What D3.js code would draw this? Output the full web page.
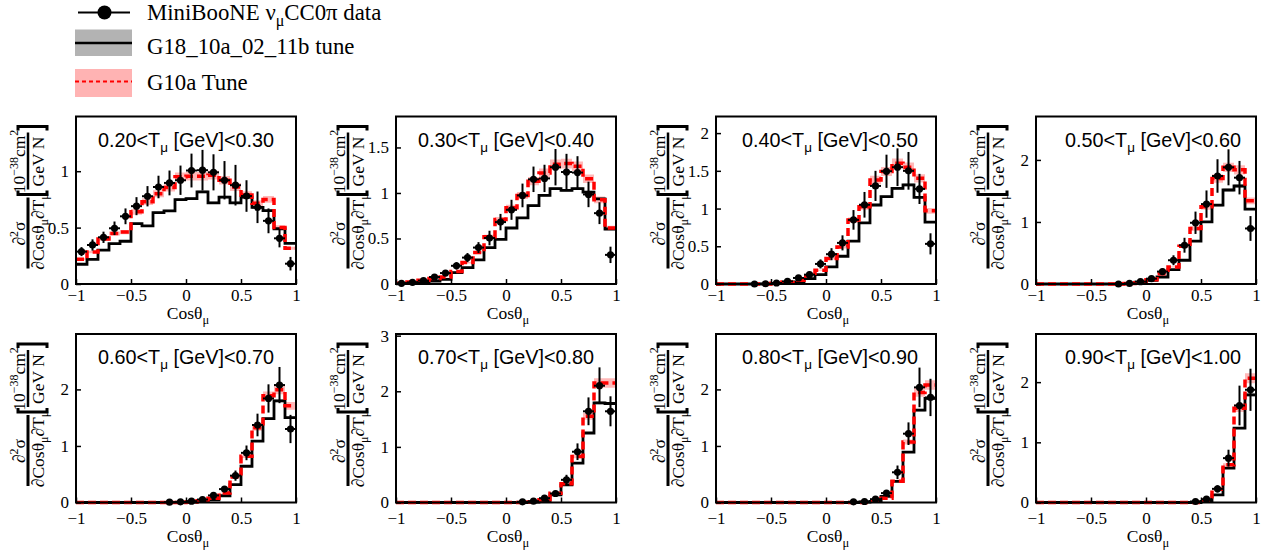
<!DOCTYPE html>
<html>
<head>
<meta charset="utf-8">
<script src="https://cdn.jsdelivr.net/npm/d3@7"></script>
<style>
  body { margin: 0; background: #fff; }
</style>
</head>
<body>
<svg id="chart" width="1273" height="554"></svg>
<script>
// bin edges in cos(theta_mu)
const binEdges = [-1, -0.9, -0.8, -0.7, -0.6, -0.5, -0.4, -0.3, -0.2, -0.1, 0, 0.1, 0.2, 0.3, 0.4, 0.5, 0.6, 0.7, 0.8, 0.9, 1];

// T_mu slices (panel titles)
const tLow  = ["0.20", "0.30", "0.40", "0.50", "0.60", "0.70", "0.80", "0.90"];
const tHigh = ["0.30", "0.40", "0.50", "0.60", "0.70", "0.80", "0.90", "1.00"];

// y axis range and ticks per panel
const yMax = [1.485, 1.84, 2.22, 2.70, 2.98, 3.03, 2.98, 2.80];
const yTicks = [
  [0, 0.5, 1], [0, 0.5, 1, 1.5], [0, 0.5, 1, 1.5, 2], [0, 1, 2],
  [0, 1, 2], [0, 1, 2, 3], [0, 1, 2], [0, 1, 2]
];
const xTicks = [-1, -0.5, 0, 0.5, 1];

// MiniBooNE data (null = no measurement) and errors
const dataVals = [
  [0.287, 0.346, 0.414, 0.494, 0.60, 0.69, 0.778, 0.86, 0.896, 0.92, 1.006, 1.009, 0.99, 0.92, 0.876, 0.78, 0.68, 0.56, 0.405, 0.18],
  [0.007, 0.018, 0.037, 0.077, 0.12, 0.2, 0.29, 0.40, 0.505, 0.68, 0.815, 0.973, 1.15, 1.16, 1.283, 1.23, 1.224, 0.984, 0.778, 0.32],
  [null, null, null, 0.0, 0.003, 0.013, 0.035, 0.08, 0.124, 0.266, 0.395, 0.545, 0.85, 1.05, 1.30, 1.494, 1.548, 1.5, 1.26, 0.532],
  [null, null, null, null, null, null, null, 0.0, 0.01, 0.038, 0.086, 0.2, 0.383, 0.625, 0.987, 1.288, 1.741, 1.881, 1.714, 0.895],
  [null, null, null, null, null, null, null, null, 0.006, 0.012, 0.024, 0.053, 0.125, 0.237, 0.475, 0.878, 1.371, 1.84, 2.077, 1.30],
  [null, null, null, null, null, null, null, null, null, null, null, 0.012, 0.024, 0.078, 0.162, 0.408, 0.913, 1.64, 2.10, 1.64],
  [null, null, null, null, null, null, null, null, null, null, null, null, 0.012, 0.018, 0.059, 0.166, 0.534, 1.217, 2.036, 1.858],
  [null, null, null, null, null, null, null, null, null, null, null, null, null, null, 0.017, 0.055, 0.227, 0.737, 1.612, 1.873]
];
const dataErr = [
  [0.04, 0.05, 0.05, 0.06, 0.07, 0.08, 0.09, 0.1, 0.11, 0.13, 0.15, 0.18, 0.16, 0.17, 0.18, 0.14, 0.14, 0.11, 0.08, 0.06],
  [0.01, 0.01, 0.015, 0.02, 0.03, 0.04, 0.05, 0.06, 0.08, 0.09, 0.11, 0.13, 0.14, 0.15, 0.2, 0.2, 0.18, 0.14, 0.12, 0.09],
  [0, 0, 0, 0.01, 0.01, 0.02, 0.02, 0.03, 0.04, 0.06, 0.08, 0.1, 0.13, 0.17, 0.2, 0.22, 0.25, 0.25, 0.2, 0.14],
  [0, 0, 0, 0, 0, 0, 0, 0.01, 0.01, 0.02, 0.03, 0.05, 0.08, 0.12, 0.18, 0.22, 0.27, 0.29, 0.27, 0.2],
  [0, 0, 0, 0, 0, 0, 0, 0, 0.01, 0.01, 0.01, 0.02, 0.03, 0.05, 0.09, 0.13, 0.2, 0.25, 0.32, 0.25],
  [0, 0, 0, 0, 0, 0, 0, 0, 0, 0, 0, 0.01, 0.02, 0.03, 0.05, 0.09, 0.15, 0.25, 0.33, 0.27],
  [0, 0, 0, 0, 0, 0, 0, 0, 0, 0, 0, 0, 0.01, 0.02, 0.03, 0.05, 0.12, 0.2, 0.35, 0.33],
  [0, 0, 0, 0, 0, 0, 0, 0, 0, 0, 0, 0, 0, 0, 0.02, 0.03, 0.06, 0.14, 0.33, 0.35]
];

// G18_10a_02_11b tune (black)
const g18Vals = [
  [0.175, 0.219, 0.30, 0.358, 0.379, 0.535, 0.515, 0.633, 0.648, 0.748, 0.757, 0.817, 0.72, 0.77, 0.72, 0.77, 0.68, 0.65, 0.49, 0.36],
  [0.007, 0.015, 0.022, 0.033, 0.05, 0.125, 0.18, 0.265, 0.40, 0.49, 0.615, 0.726, 0.862, 0.973, 1.047, 1.028, 1.047, 1.01, 0.936, 0.604],
  [0, 0, 0, 0, 0, 0.004, 0.01, 0.027, 0.07, 0.124, 0.226, 0.368, 0.568, 0.81, 1.047, 1.157, 1.268, 1.313, 1.149, 0.82],
  [0, 0, 0, 0, 0, 0, 0, 0, 0.01, 0.03, 0.06, 0.113, 0.232, 0.383, 0.69, 1.0, 1.27, 1.515, 1.58, 1.207],
  [0, 0, 0, 0, 0, 0, 0, 0, 0, 0, 0.005, 0.018, 0.047, 0.119, 0.315, 0.641, 1.086, 1.484, 1.798, 1.50],
  [0, 0, 0, 0, 0, 0, 0, 0, 0, 0, 0, 0, 0.006, 0.036, 0.138, 0.318, 0.709, 1.25, 1.79, 1.78],
  [0, 0, 0, 0, 0, 0, 0, 0, 0, 0, 0, 0, 0, 0.005, 0.018, 0.107, 0.374, 0.89, 1.632, 1.84],
  [0, 0, 0, 0, 0, 0, 0, 0, 0, 0, 0, 0, 0, 0, 0, 0.017, 0.127, 0.57, 1.235, 1.79]
];

// G10a Tune (red dashed)
const g10aVals = [
  [0.219, 0.284, 0.40, 0.447, 0.46, 0.64, 0.73, 0.80, 0.855, 0.95, 0.955, 0.955, 0.965, 0.92, 0.86, 0.79, 0.715, 0.75, 0.50, 0.317],
  [0.007, 0.022, 0.04, 0.06, 0.077, 0.136, 0.236, 0.346, 0.52, 0.708, 0.837, 0.973, 1.13, 1.22, 1.316, 1.323, 1.294, 1.157, 0.925, 0.616],
  [0, 0, 0, 0, 0, 0.01, 0.025, 0.05, 0.106, 0.182, 0.337, 0.49, 0.847, 1.024, 1.38, 1.49, 1.6, 1.548, 1.40, 0.97],
  [0, 0, 0, 0, 0, 0, 0, 0, 0.01, 0.022, 0.07, 0.167, 0.275, 0.61, 0.895, 1.245, 1.70, 1.88, 1.84, 1.34],
  [0, 0, 0, 0, 0, 0, 0, 0, 0, 0, 0.01, 0.03, 0.077, 0.166, 0.45, 0.819, 1.323, 1.887, 1.994, 1.709],
  [0, 0, 0, 0, 0, 0, 0, 0, 0, 0, 0, 0, 0.01, 0.048, 0.168, 0.336, 0.829, 1.55, 2.15, 2.15],
  [0, 0, 0, 0, 0, 0, 0, 0, 0, 0, 0, 0, 0, 0, 0.02, 0.077, 0.374, 1.07, 1.947, 2.077],
  [0, 0, 0, 0, 0, 0, 0, 0, 0, 0, 0, 0, 0, 0, 0, 0.033, 0.22, 0.626, 1.568, 2.066]
];

// relative half-width of the model uncertainty bands
const g18Band = 0.015;
const g10aBand = 0.04;

const serif = "'Liberation Serif', 'DejaVu Serif', serif";
const sans = "'Liberation Sans', Arial, sans-serif";

const svg = d3.select("#chart");

// layout
const W = 220;
const colX = [76, 396, 716, 1036];
const rowY = [116.5, 334];
const rowH = [167.5, 168.5];
const titleDx = [22, 22, 26, 29];
const tickLabDy = [16.5, 21];
const xTitleDy = [34.5, 39];

const x = d3.scaleLinear().domain([-1, 1]).range([0, W]);
const fmt = d3.format("");

function yLabel(g) {
  const L = g.append("g")
    .attr("transform", "translate(-48,152) rotate(-90)")
    .attr("font-family", serif)
    .attr("font-size", 17.5);

  L.append("line").attr("x1", 0).attr("x2", 71).attr("y1", 0).attr("y2", 0)
    .attr("stroke", "#000").attr("stroke-width", 3);
  const num = L.append("text").attr("x", 35).attr("y", -3).attr("text-anchor", "middle");
  num.append("tspan").text("∂");
  num.append("tspan").attr("dy", -7).attr("font-size", 12).text("2");
  num.append("tspan").attr("dy", 7).text("σ");

  const den = L.append("text").attr("x", 37).attr("y", 16).attr("text-anchor", "middle");
  den.append("tspan").text("∂Cosθ");
  den.append("tspan").attr("dy", 4).attr("font-size", 12).text("μ");
  den.append("tspan").attr("dy", -4).text("∂T");
  den.append("tspan").attr("dy", 4).attr("font-size", 12).text("μ");

  // brackets
  L.append("path").attr("d", "M78,-10 L74,-10 L74,19 L78,19")
    .attr("fill", "none").attr("stroke", "#000").attr("stroke-width", 3);
  L.append("path").attr("d", "M138,-10 L142,-10 L142,19 L138,19")
    .attr("fill", "none").attr("stroke", "#000").attr("stroke-width", 3);

  L.append("line").attr("x1", 79).attr("x2", 136).attr("y1", 0).attr("y2", 0)
    .attr("stroke", "#000").attr("stroke-width", 2.5);
  const n2 = L.append("text").attr("x", 107).attr("y", -3).attr("text-anchor", "middle");
  n2.append("tspan").text("10");
  n2.append("tspan").attr("dy", -7).attr("font-size", 12).text("−38");
  n2.append("tspan").attr("dy", 7).text("cm");
  n2.append("tspan").attr("dy", -7).attr("font-size", 12).text("2");
  L.append("text").attr("x", 107).attr("y", 16).attr("text-anchor", "middle").text("GeV N");
}

for (let i = 0; i < 8; i++) {
  const col = i % 4, row = Math.floor(i / 4);
  const h = rowH[row];
  const g = svg.append("g").attr("transform", `translate(${colX[col]},${rowY[row]})`);
  const y = d3.scaleLinear().domain([0, yMax[i]]).range([h, 0]);

  const pts = v => v.map((d, k) => [binEdges[k], d]).concat([[binEdges[20], v[v.length - 1]]]);
  const line = d3.line().curve(d3.curveStepAfter).x(d => x(d[0])).y(d => y(d[1]));
  const band = f => d3.area().curve(d3.curveStepAfter)
    .x(d => x(d[0])).y0(d => y(d[1] * (1 - f))).y1(d => y(d[1] * (1 + f)));

  // bands
  g.append("path").attr("d", band(g10aBand)(pts(g10aVals[i]))).attr("fill", "rgba(255,0,0,0.28)");
  g.append("path").attr("d", band(g18Band)(pts(g18Vals[i]))).attr("fill", "rgba(120,120,120,0.5)");

  // histograms
  g.append("path").attr("d", line(pts(g18Vals[i])))
    .attr("fill", "none").attr("stroke", "#000").attr("stroke-width", 2.8);
  g.append("path").attr("d", line(pts(g10aVals[i])))
    .attr("fill", "none").attr("stroke", "#ff0000").attr("stroke-width", 3.5)
    .attr("stroke-dasharray", "8,4");

  // data points
  const dp = dataVals[i].map((v, k) => ({ v, e: dataErr[i][k], c: (binEdges[k] + binEdges[k + 1]) / 2, k }))
    .filter(d => d.v !== null);
  const pg = g.append("g").attr("stroke", "#000").attr("stroke-width", 2);
  pg.selectAll(".ey").data(dp).join("line")
    .attr("x1", d => x(d.c)).attr("x2", d => x(d.c))
    .attr("y1", d => y(d.v - d.e)).attr("y2", d => y(Math.min(d.v + d.e, yMax[i])));
  pg.selectAll(".ex").data(dp).join("line")
    .attr("x1", d => x(binEdges[d.k])).attr("x2", d => x(binEdges[d.k + 1]))
    .attr("y1", d => y(d.v)).attr("y2", d => y(d.v));
  g.append("g").selectAll("circle").data(dp).join("circle")
    .attr("cx", d => x(d.c)).attr("cy", d => y(d.v)).attr("r", 3.6).attr("fill", "#000");

  // axes (ticks inside)
  const xa = g.append("g").attr("transform", `translate(0,${h})`)
    .call(d3.axisBottom(x).tickValues(xTicks).tickSize(-5).tickPadding(0).tickFormat(fmt));
  xa.select(".domain").remove();
  xa.selectAll("line").attr("stroke-width", 1.5);
  xa.selectAll("text").attr("font-family", serif).attr("font-size", 17)
    .attr("y", tickLabDy[row]).attr("dy", 0);

  const ya = g.append("g")
    .call(d3.axisLeft(y).tickValues(yTicks[i]).tickSize(-5).tickPadding(7).tickFormat(fmt));
  ya.select(".domain").remove();
  ya.selectAll("line").attr("stroke-width", 1.5);
  ya.selectAll("text").attr("font-family", serif).attr("font-size", 17);

  // frame
  g.append("rect").attr("width", W).attr("height", h)
    .attr("fill", "none").attr("stroke", "#000").attr("stroke-width", 2);

  // x title
  const xt = g.append("text").attr("x", W / 2 + 2).attr("y", h + xTitleDy[row])
    .attr("text-anchor", "middle").attr("font-family", serif).attr("font-size", 17.5);
  xt.append("tspan").text("Cosθ");
  xt.append("tspan").attr("dy", 5).attr("font-size", 12.5).text("μ");

  // panel title
  const tt = g.append("text").attr("x", titleDx[col]).attr("y", 30)
    .attr("font-family", sans).attr("font-size", 19.8);
  tt.append("tspan").text(`${tLow[i]}<T`);
  tt.append("tspan").attr("dy", 5).attr("font-size", 13.5).text("μ");
  tt.append("tspan").attr("dy", -5).text(` [GeV]<${tHigh[i]}`);

  yLabel(g);
}

// legend
const lg = svg.append("g").attr("font-family", serif).attr("font-size", 22.8);
lg.append("line").attr("x1", 78).attr("x2", 130).attr("y1", 12.5).attr("y2", 12.5)
  .attr("stroke", "#000").attr("stroke-width", 2);
lg.append("circle").attr("cx", 104.5).attr("cy", 12.5).attr("r", 7).attr("fill", "#000");
const t1 = lg.append("text").attr("x", 147).attr("y", 20.3);
t1.append("tspan").text("MiniBooNE ν");
t1.append("tspan").attr("dy", 6).attr("font-size", 16).text("μ");
t1.append("tspan").attr("dy", -6).text("CC0π data");

lg.append("rect").attr("x", 75).attr("y", 29.5).attr("width", 57).attr("height", 26.5).attr("fill", "#b3b3b3");
lg.append("line").attr("x1", 75).attr("x2", 132).attr("y1", 43).attr("y2", 43)
  .attr("stroke", "#000").attr("stroke-width", 2.5);
lg.append("text").attr("x", 147).attr("y", 53.5).text("G18_10a_02_11b tune");

lg.append("rect").attr("x", 75).attr("y", 69).attr("width", 57).attr("height", 28).attr("fill", "#ffb3b3");
lg.append("line").attr("x1", 75).attr("x2", 132).attr("y1", 81.5).attr("y2", 81.5)
  .attr("stroke", "#ff0000").attr("stroke-width", 2).attr("stroke-dasharray", "4,3");
lg.append("text").attr("x", 147).attr("y", 89.5).text("G10a Tune");
</script>
</body>
</html>
